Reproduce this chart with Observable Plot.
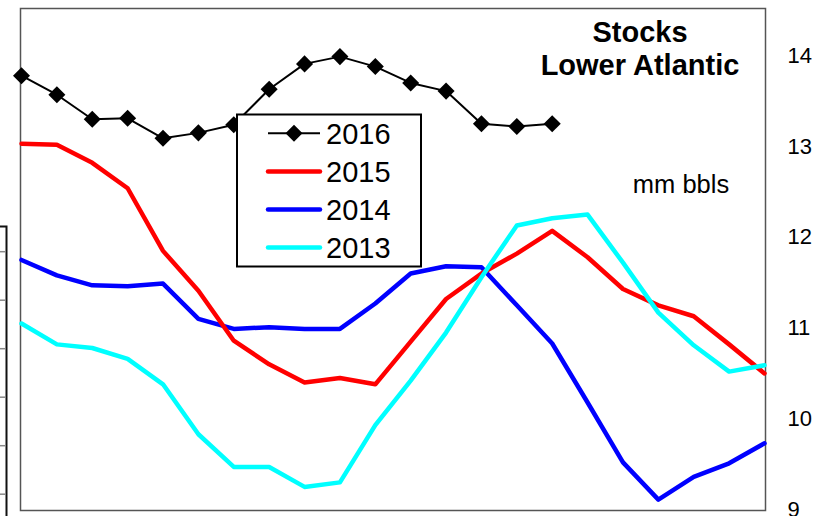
<!DOCTYPE html>
<html>
<head>
<meta charset="utf-8">
<script src="https://cdn.jsdelivr.net/npm/d3@7"></script>
<script src="https://cdn.jsdelivr.net/npm/@observablehq/plot@0.6"></script>
<style>
  html, body { margin: 0; padding: 0; background: #fff; }
  #wrap { position: relative; width: 824px; height: 516px; overflow: hidden; font-family: "Liberation Sans", Arial, sans-serif; }
  #wrap svg.plot { position: absolute; left: 0; top: 0; }
  #overlay { position: absolute; left: 0; top: 0; pointer-events: none; }
</style>
</head>
<body>
<div id="wrap"></div>
<script>
// ---- data (mm bbls), weekly index 0..21 ----
const weeks = [0,1,2,3,4,5,6,7,8,9,10,11,12,13,14,15,16,17,18,19,20,21];
const s2016 = [13.78,13.57,13.30,13.31,13.09,13.15,13.24,13.63,13.91,13.99,13.88,13.70,13.61,13.25,13.22,13.25];
const s2015 = [13.03,13.02,12.82,12.54,11.85,11.41,10.86,10.60,10.40,10.45,10.38,10.85,11.32,11.60,11.82,12.07,11.78,11.43,11.25,11.13,10.82,10.50];
const s2014 = [11.75,11.58,11.47,11.46,11.49,11.10,10.99,11.01,10.99,10.99,11.27,11.60,11.68,11.67,11.25,10.83,10.18,9.52,9.11,9.36,9.51,9.73];
const s2013 = [11.05,10.82,10.78,10.66,10.38,9.83,9.47,9.47,9.25,9.30,9.93,10.42,10.95,11.56,12.13,12.21,12.25,11.72,11.17,10.81,10.52,10.59];
const yTicks = [9,10,11,12,13,14];
const seriesNames = ["2016","2015","2014","2013"];
const seriesColors = ["#000000","#ff0000","#0000ff","#00ffff"];
const titleLines = ["Stocks","Lower Atlantic"];
const unitLabel = "mm bbls";

const toRows = (arr) => arr.map((v, i) => ({week: weeks[i], value: v}));

const chart = Plot.plot({
  width: 824,
  height: 516,
  marginLeft: 20,
  marginRight: 59,
  marginTop: 8,
  marginBottom: 6,
  style: {fontFamily: '"Liberation Sans", Arial, sans-serif', fontSize: "22px", color: "#000", background: "transparent"},
  x: {domain: [0, 21], insetLeft: 1, insetRight: 1, axis: null},
  y: {domain: [8.99, 14.52], axis: "right", ticks: yTicks, tickSize: 0, tickPadding: 22, label: null, tickFormat: d => String(d)},
  marks: [
    Plot.frame({stroke: "#555", strokeWidth: 1.5}),
    Plot.line(toRows(s2014), {x: "week", y: "value", stroke: seriesColors[2], strokeWidth: 4.5}),
    Plot.line(toRows(s2015), {x: "week", y: "value", stroke: seriesColors[1], strokeWidth: 4.5}),
    Plot.line(toRows(s2013), {x: "week", y: "value", stroke: seriesColors[3], strokeWidth: 4.5}),
    Plot.line(toRows(s2016), {x: "week", y: "value", stroke: seriesColors[0], strokeWidth: 2}),
    Plot.dot(toRows(s2016), {x: "week", y: "value", symbol: "square", r: 6.8, rotate: 45, fill: "#000", stroke: "none"})
  ]
});
chart.classList.add("plot");
document.getElementById("wrap").appendChild(chart);

// ---- overlay: title, unit label, legend, neighbouring-panel edge ----
const ov = d3.select("#wrap").append("svg")
  .attr("id", "overlay").attr("width", 824).attr("height", 516)
  .style("font-family", '"Liberation Sans", Arial, sans-serif');

// fragment of neighbouring chart at far left
const frag = ov.append("g");
frag.append("path").attr("d", "M0,226.5H6.5V516").attr("fill", "none").attr("stroke", "#111").attr("stroke-width", 2);
for (let k = 0; k < 6; k++) {
  const yy = 251.7 + k * 48.5;
  frag.append("line").attr("x1", 0).attr("x2", 5.5).attr("y1", yy).attr("y2", yy).attr("stroke", "#888").attr("stroke-width", 1.5);
}

// title
titleLines.forEach((t, i) => {
  ov.append("text").attr("x", 640).attr("y", 42 + i * 33).attr("text-anchor", "middle")
    .attr("font-size", 29).attr("font-weight", "bold").text(t);
});
ov.append("text").attr("x", 681).attr("y", 193).attr("text-anchor", "middle").attr("font-size", 25.5).text(unitLabel);

// legend
const lg = ov.append("g");
lg.append("rect").attr("x", 237).attr("y", 114.5).attr("width", 184).attr("height", 152)
  .attr("fill", "#fff").attr("stroke", "#000").attr("stroke-width", 2);
seriesNames.forEach((name, i) => {
  const cy = 133.3 + i * 38.1;
  if (i === 0) {
    lg.append("line").attr("x1", 268).attr("x2", 320).attr("y1", cy).attr("y2", cy).attr("stroke", "#000").attr("stroke-width", 2);
    lg.append("path").attr("d", `M294,${cy-8.5}L302.5,${cy}L294,${cy+8.5}L285.5,${cy}Z`).attr("fill", "#000");
  } else {
    lg.append("line").attr("x1", 268).attr("x2", 320).attr("y1", cy).attr("y2", cy)
      .attr("stroke", seriesColors[i]).attr("stroke-width", 4.5).attr("stroke-linecap", "round");
  }
  lg.append("text").attr("x", 326).attr("y", cy + 10.4).attr("font-size", 29).text(name);
});
</script>
</body>
</html>
